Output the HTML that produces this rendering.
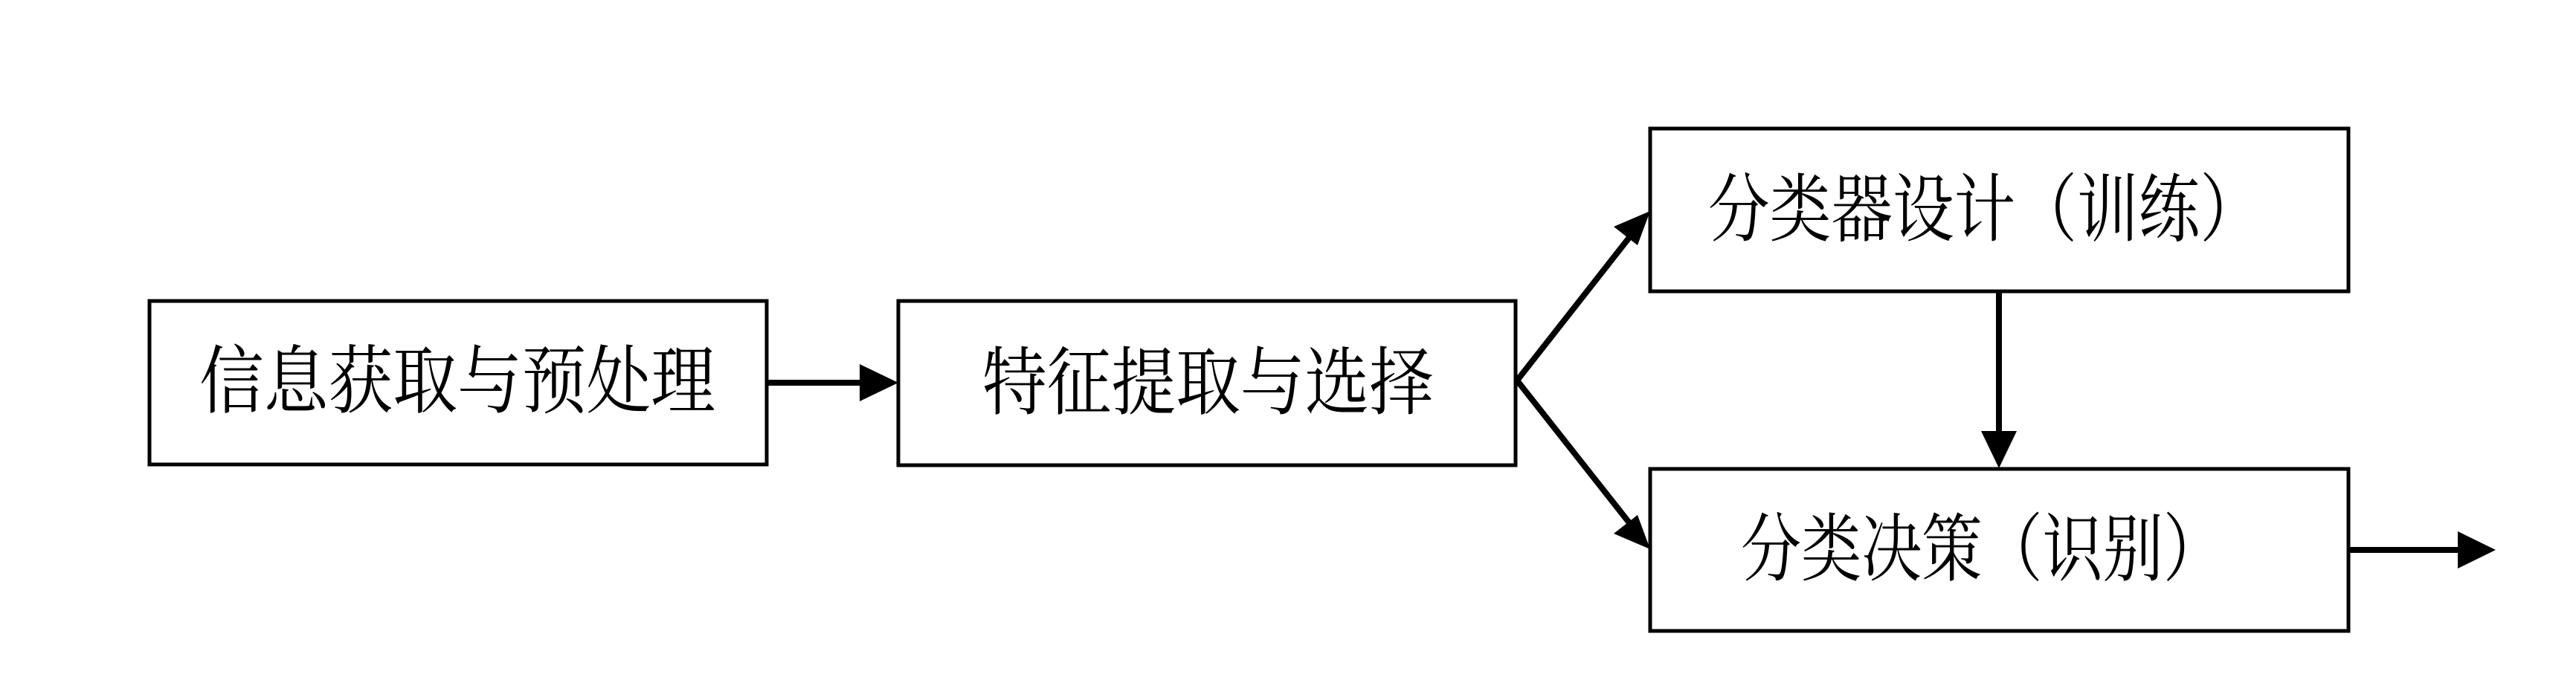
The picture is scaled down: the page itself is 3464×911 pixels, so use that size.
<!DOCTYPE html>
<html><head><meta charset="utf-8"><style>html,body{margin:0;padding:0;background:#fff;}svg{display:block}</style></head>
<body>
<svg width="3464" height="911" viewBox="0 0 3464 911" xmlns="http://www.w3.org/2000/svg">
<rect width="3464" height="911" fill="#fff"/>
<g fill="none" stroke="#000" stroke-width="5">
<rect x="201" y="405" width="830" height="220"/>
<rect x="1208" y="405" width="830" height="221"/>
<rect x="2219" y="173" width="939" height="219"/>
<rect x="2219" y="631" width="939" height="218"/>
</g>
<g stroke="#000" stroke-width="8" fill="none">
<line x1="1031" y1="515" x2="1160" y2="515"/>
<line x1="2040" y1="512" x2="2200" y2="308"/>
<line x1="2040" y1="512" x2="2200" y2="715"/>
<line x1="2688" y1="392" x2="2688" y2="585"/>
<line x1="3158" y1="740" x2="3310" y2="740"/>
</g>
<g fill="#000">
<polygon points="1208,515 1156,490 1156,540"/>
<polygon points="2219,284 2170,305 2202,330"/>
<polygon points="2219,739 2170,718 2202,693"/>
<polygon points="2688,630 2664,580 2712,580"/>
<polygon points="3356,740 3305,715 3305,765"/>
</g>
<g font-family="'Liberation Serif','Noto Serif CJK SC',serif" font-size="100" fill="#000" dominant-baseline="central">
<text x="268" y="514" textLength="694" lengthAdjust="spacingAndGlyphs">信息获取与预处理</text>
<text x="1321" y="516" textLength="607" lengthAdjust="spacingAndGlyphs">特征提取与选择</text>
<text x="2297" y="283" textLength="744" lengthAdjust="spacingAndGlyphs">分类器设计（训练）</text>
<text x="2341" y="740" textLength="649" lengthAdjust="spacingAndGlyphs">分类决策（识别）</text>
</g>
</svg>
</body></html>
